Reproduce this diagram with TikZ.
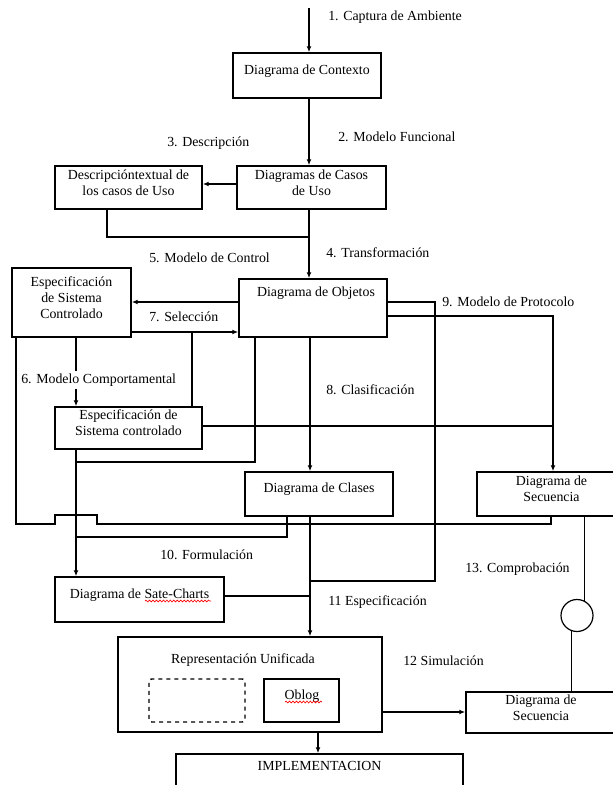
\documentclass[tikz,border=0pt]{standalone}
\usepackage{fontspec}
\setmainfont{Liberation Serif}
\usetikzlibrary{arrows.meta,fit,decorations.pathmorphing}

\begin{document}
\begin{tikzpicture}[x=0.75pt,y=-0.75pt,
  every node/.style={font=\fontsize{10.4}{12}\selectfont},
  box/.style={draw, line width=1.1pt, inner sep=0pt, align=center},
  lbl/.style={anchor=west, inner sep=0pt},
  wire/.style={line width=0.9pt},
  arr/.style={wire, -{Latex[length=4.5pt,width=3.6pt]}},
  squiggle/.style={red, line width=0.5pt, decorate,
    decoration={snake, amplitude=0.7pt, segment length=2.6pt}},
]
\useasboundingbox (0,0) rectangle (613,785);

% ---- boxes ----
\node[box, fit={(233,53) (381,98)}]   (ctx)    {Diagrama de Contexto};
\node[box, fit={(237,166) (386,209)}] (casos)  {Diagramas de Casos\\de Uso};
\node[box, fit={(55,166) (202,209)}]  (desc)   {Descripcióntextual de\\los casos de Uso};
\node[box, fit={(239,279) (387,337)}] (obj)    {};
\node (objt) at (316,293) {Diagrama de Objetos};
\node[box, fit={(12,268) (131,337)}]  (espec)  {Especificación\\de Sistema\\Controlado};
\node[box, fit={(55,407) (202,449)}]  (espec2) {Especificación de\\Sistema controlado};
\node[box, fit={(245,472) (393,516)}] (clases) {Diagrama de Clases};
\node[box, fit={(477,472) (626,516)}] (sec1)   {Diagrama de\\Secuencia};
\node[box, fit={(55,577) (224,622)}]  (sate)   {Diagrama de Sate-Charts};
\node[box, fit={(118,637) (382,732)}] (unif)   {};
\node (unift) at (243,660) {Representación Unificada};
\node[box, dashed, rounded corners=2pt, fit={(149,679) (245,722)}] (dbox) {};
\node[box, fit={(264,679) (339,722)}] (oblog)  {};
\node (oblogt) at (302,696) {Oblog};
\node[box, fit={(466,692) (616,733)}] (sec2)   {Diagrama de\\Secuencia};
\node[box, fit={(176,754) (463,788)}] (impl)   {IMPLEMENTACION};
\node[draw, circle, line width=0.9pt, minimum size=24pt, inner sep=0pt] (circ) at (577,615.5) {};

% spell-check marks under two words
\draw[squiggle] (145,601) -- (211,601);
\draw[squiggle] (285,702) -- (322,702);

% ---- reference positions ----
\coordinate (in0)  at (309,8);
\coordinate (y184) at (0,184);
\coordinate (x107) at (107,0);
\coordinate (j1)   at (309,237);
\coordinate (y302) at (0,302);
\coordinate (y316) at (0,316);
\coordinate (y332) at (0,332);
\coordinate (x192) at (192,0);
\coordinate (x76)  at (76,0);
\coordinate (x16)  at (16,0);
\coordinate (x255) at (255,0);
\coordinate (y462) at (0,462);
\coordinate (x310) at (310,0);
\coordinate (p9)   at (435,581);
\coordinate (x553) at (553,0);
\coordinate (y426) at (0,426);
\coordinate (x551) at (551,0);
\coordinate (x287) at (287,0);
\coordinate (y537) at (0,537);
\coordinate (y596) at (0,596);
\coordinate (y712) at (0,712);
\coordinate (x318) at (318,0);

% ---- connectors ----
\draw[arr] (in0) -- (ctx.north -| in0);
\draw[arr] (ctx.south -| in0) -- (casos.north -| in0);
\draw[arr] (casos.west |- y184) -- (desc.east |- y184);
\draw[wire] (desc.south -| x107) |- (j1);
\draw[arr] (casos.south -| j1) -- (obj.north -| j1);

\draw[arr] (obj.west |- y302) -- (espec.east |- y302);
\draw[arr] (espec.east |- y332) -- (obj.west |- y332);
\draw[wire] (espec2.north -| x192) -- (x192 |- y332);
\draw[arr] (espec.south -| x76) -- (espec2.north -| x76);

\draw[wire] (obj.south -| x255) |- (x76 |- y462);
\draw[arr] (obj.south -| x310) -- (clases.north -| x310);
\draw[wire] (obj.east |- y302) -| (p9) -- (p9 -| x310);
\draw[arr] (obj.east |- y316) -| (sec1.north -| x553);
\draw[wire] (espec2.east |- y426) -- (x553 |- y426);

% line from the left box to the sequence diagram, hopping over x = 76
\draw[wire] (espec.south -| x16) |- (55,524) -- ++(0,-9) -- ++(42,0) -- ++(0,9)
            -| (sec1.south -| x551);

\draw[arr] (espec2.south -| x76) -- (sate.north -| x76);
\draw[wire] (clases.south -| x287) |- (x76 |- y537);
\draw[arr] (clases.south -| x310) -- (unif.north -| x310);
\draw[wire] (sate.east |- y596) -- (x310 |- y596);

\draw[wire] (sec1.south -| circ.64) -- (circ.64);
\draw[wire] (circ.-108) -- (sec2.north -| circ.-108);
\draw[arr] (unif.east |- y712) -- (sec2.west |- y712);
\draw[arr] (unif.south -| x318) -- (impl.north -| x318);

% ---- labels ----
\node[lbl] (l1)  at (328,17)  {1. Captura de Ambiente};
\node[lbl] (l2)  at (338,137) {2. Modelo Funcional};
\node[lbl] (l3)  at (167,143) {3. Descripción};
\node[lbl] (l4)  at (326,253) {4. Transformación};
\node[lbl] (l5)  at (149,258) {5. Modelo de Control};
\node[lbl] (l7)  at (149,317) {7. Selección};
\node[lbl] (l9)  at (442,302) {9. Modelo de Protocolo};
\node[lbl, fill=white, inner ysep=2pt] (l6) at (21,380) {6. Modelo Comportamental};
\node[lbl] (l8)  at (326,390) {8. Clasificación};
\node[lbl] (l10) at (160,555) {10. Formulación};
\node[lbl] (l13) at (465,569) {13. Comprobación};
\node[lbl] (l11) at (328,602) {11 Especificación};
\node[lbl] (l12) at (403,661) {12 Simulación};
\end{tikzpicture}
\end{document}
